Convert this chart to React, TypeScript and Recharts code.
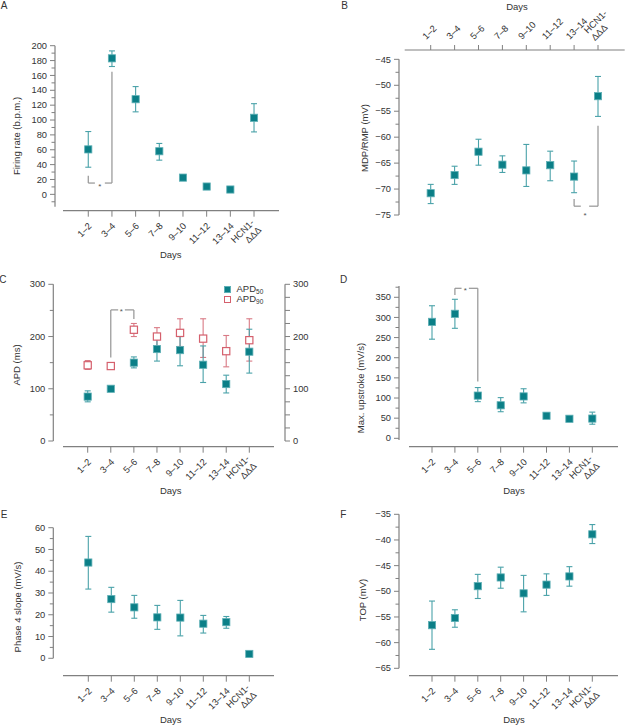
import React from 'react';
import { ErrorBar, ReferenceDot, ReferenceLine, Scatter, ScatterChart, XAxis, YAxis } from 'recharts';

const DAYS = ['1–2', '3–4', '5–6', '7–8', '9–10', '11–12', '13–14', 'HCN1-\nΔΔΔ'];
const POS = [1, 2, 3, 4, 5, 6, 7, 8];

// A: firing rate (b.p.m.)
const FIRING_MEAN = [60.5, 183, 128, 58, 22.5, 10.5, 6.5, 103];
const FIRING_LO = [36.5, 172, 111, 46, 22.5, 10.5, 6.5, 84];
const FIRING_HI = [84.5, 193, 145, 68.5, 22.5, 10.5, 6.5, 122];

// B: MDP/RMP (mV)
const MDP_MEAN = [-70.8, -67.3, -62.8, -65.3, -66.4, -65.4, -67.6, -52.1];
const MDP_LO = [-72.8, -69.1, -65.4, -66.8, -69.5, -68.4, -70.7, -56];
const MDP_HI = [-69.1, -65.6, -60.4, -63.6, -61.4, -62.7, -64.6, -48.3];

// C: APD (ms)
const APD50_MEAN = [85, 100, 150, 176, 174, 146, 109, 171];
const APD50_LO = [75, 100, 140, 153, 144, 112, 92, 130];
const APD50_HI = [96, 100, 161, 195, 200, 182, 126, 214];
const APD90_MEAN = [145, 143.5, 213, 200, 207, 196, 172, 193];
const APD90_LO = [137, 141, 200, 182, 181, 160, 142, 153];
const APD90_HI = [154, 146, 225, 217, 234, 234, 202, 234];

// D: max. upstroke (mV/s)
const UPSTROKE_MEAN = [289, 309, 106, 82, 104, 56, 48.5, 49];
const UPSTROKE_LO = [246, 273, 91, 66, 88, 56, 48.5, 35];
const UPSTROKE_HI = [329, 345, 126, 101, 123, 56, 48.5, 65];

// E: phase 4 slope (mV/s)
const SLOPE_MEAN = [44, 27.2, 23.4, 18.8, 18.7, 15.9, 16.6, 2];
const SLOPE_LO = [31.8, 21.2, 18.4, 13.3, 10.3, 11.6, 13.8, 2];
const SLOPE_HI = [56, 32.6, 28.9, 24.3, 26.6, 19.7, 19.2, 2];

// F: TOP (mV)
const TOP_MEAN = [-56.6, -55.2, -49, -47.3, -50.4, -48.7, -47.1, -38.9];
const TOP_LO = [-61.3, -57, -51.4, -49.4, -54, -50.8, -49, -40.7];
const TOP_HI = [-51.9, -53.6, -46.7, -45.3, -46.9, -46.6, -45.2, -37];

// y ticks
const A_MAJOR = [0, 20, 40, 60, 80, 100, 120, 140, 160, 180, 200];
const A_MINOR = [-10, 10, 30, 50, 70, 90, 110, 130, 150, 170, 190];
const B_MAJOR = [-75, -70, -65, -60, -55, -50, -45];
const B_MINOR = [-72.5, -67.5, -62.5, -57.5, -52.5, -47.5];
const C_MAJOR = [0, 100, 200, 300];
const C_MINOR = [50, 150, 250];
const C_RIGHT_MINOR = [25, 50, 75, 125, 150, 175, 225, 250, 275];
const D_MAJOR = [0, 50, 100, 150, 200, 250, 300, 350];
const D_MINOR = [25, 75, 125, 175, 225, 275, 325, 375];
const E_MAJOR = [0, 10, 20, 30, 40, 50, 60];
const E_MINOR = [5, 15, 25, 35, 45, 55];
const F_MAJOR = [-65, -60, -55, -50, -45, -40, -35];
const F_MINOR = [-62.5, -57.5, -52.5, -47.5, -42.5, -37.5];

// significance brackets: [x1, y1, x2, y2] segments, star at [x, y]
const A_BRACKET = [[1, 25, 1, 15.2], [1, 15.2, 1.28, 15.2], [1.7, 15.2, 2, 15.2], [2, 15.2, 2, 165]];
const A_STAR = [1.49, 13];
const B_BRACKET = [[7, -71.9, 7, -73.3], [7, -73.3, 7.28, -73.3], [7.63, -73.3, 8, -73.3], [8, -73.3, 8, -57.8]];
const B_STAR = [7.46, -74.6];
const C_BRACKET = [[2, 160, 2, 251], [2, 251, 2.32, 251], [2.61, 251, 3, 251], [3, 251, 3, 233.6]];
const C_STAR = [2.46, 251];
const D_BRACKET = [[2, 355.8, 2, 372.3], [2, 372.3, 2.29, 372.3], [2.61, 372.3, 3, 372.3], [3, 372.3, 3, 140.7]];
const D_STAR = [2.46, 373];

const FONT = '"Liberation Sans", Arial, Helvetica, sans-serif';
const AXIS = '#808080';
const TEXT = '#333';
const TEAL = '#0b7f87';
const TEAL_EDGE = '#5fb0b6';
const TEAL_ERR = '#4aa2a9';
const PINK = '#d5606d';
const PINK_ERR = '#d97a85';
const BRACKET = '#949494';
const W = 626;
const H = 727;

const rows = (mean: number[], lo: number[], hi: number[]) =>
  POS.map((x, i) => ({ x, y: mean[i], err: [mean[i] - lo[i], hi[i] - mean[i]] }));

const fmt = (v: number) => (v < 0 ? `\u2212${Math.abs(v)}` : `${v}`);

const makeLeftTick = (majors: number[]) => (props: any) => {
  const { x, y, payload } = props;
  const major = majors.includes(payload.value);
  return (
    <g>
      <line x1={x - (major ? 5 : 3.5)} x2={x} y1={y} y2={y} stroke={AXIS} strokeWidth={1} />
      {major && (
        <text x={x - 8} y={y} dy="0.34em" textAnchor="end" fontSize={9.3} fill={TEXT} fontFamily={FONT}>
          {fmt(payload.value)}
        </text>
      )}
    </g>
  );
};

const makeRightTick = (majors: number[]) => (props: any) => {
  const { x, y, payload } = props;
  const major = majors.includes(payload.value);
  return (
    <g>
      <line x1={x} x2={x + 5} y1={y} y2={y} stroke={AXIS} strokeWidth={1} />
      {major && (
        <text x={x + 8} y={y} dy="0.34em" textAnchor="start" fontSize={9.3} fill={TEXT} fontFamily={FONT}>
          {fmt(payload.value)}
        </text>
      )}
    </g>
  );
};

const BottomTick = (props: any) => {
  const { x, y, payload } = props;
  const parts = DAYS[Math.round(payload.value) - 1].split('\n');
  return (
    <g transform={`translate(${x + 4},${y + 10}) rotate(-45)`}>
      <text textAnchor="end" fontSize={9.3} fill={TEXT} fontFamily={FONT}>
        {parts.map((s, i) => (
          <tspan key={i} x={0} dy={i === 0 ? (parts.length > 1 ? '-0.5em' : 0) : '1.1em'}>{s}</tspan>
        ))}
      </text>
    </g>
  );
};

const TopTick = (props: any) => {
  const { x, y, payload } = props;
  const parts = DAYS[Math.round(payload.value) - 1].split('\n');
  return (
    <g transform={`translate(${x - 4.4},${y - 5}) rotate(-45)`}>
      <text textAnchor="start" fontSize={9.3} fill={TEXT} fontFamily={FONT}>
        {parts.map((s, i) => (
          <tspan key={i} x={0} dy={i === 0 ? (parts.length > 1 ? '-0.9em' : 0) : '1.1em'}>{s}</tspan>
        ))}
      </text>
    </g>
  );
};

const FilledSquare = (p: any) => (
  <rect x={p.cx - 3.6} y={p.cy - 3.6} width={7.2} height={7.2} fill={TEAL} stroke={TEAL_EDGE} strokeWidth={0.8} />
);
const OpenSquare = (p: any) => (
  <rect x={p.cx - 3.6} y={p.cy - 3.6} width={7.2} height={7.2} fill="#fff" stroke={PINK} strokeWidth={1.2} />
);
const Star = (p: any) => (
  <text x={p.cx} y={p.cy + 4.6} textAnchor="middle" fontSize={8} fill="#555" fontFamily={FONT}>*</text>
);

const bracket = (segs: number[][], star: number[], key: string) => [
  ...segs.map((s, i) => (
    <ReferenceLine
      key={`${key}-${i}`}
      segment={[{ x: s[0], y: s[1] }, { x: s[2], y: s[3] }]}
      stroke={BRACKET}
      strokeWidth={1.2}
      ifOverflow="visible"
    />
  )),
  <ReferenceDot key={`${key}-star`} x={star[0]} y={star[1]} r={0} shape={Star} ifOverflow="visible" />,
];

const teal = (data: any[]) => (
  <Scatter data={data} dataKey="y" shape={FilledSquare} isAnimationActive={false}>
    <ErrorBar dataKey="err" direction="y" width={3} stroke={TEAL_ERR} strokeWidth={1.1} isAnimationActive={false} />
  </Scatter>
);

interface PanelProps {
  box: { left: number; top: number; right: number; bottom: number };
  xDomain: [number, number];
  yDomain: [number, number];
  major: number[];
  minor: number[];
  xDash: string;
  yDash: string;
  xTop?: boolean;
  right?: number[];
  children?: React.ReactNode;
}

const Panel = ({ box, xDomain, yDomain, major, minor, xDash, yDash, xTop, right, children }: PanelProps) => {
  const YW = 40;
  const XH = 40;
  const margin = {
    left: box.left - YW,
    right: W - box.right - (right ? YW : 0),
    top: xTop ? box.top - XH : box.top,
    bottom: xTop ? H - box.bottom : H - box.bottom - XH,
  };
  return (
    <div style={{ position: 'absolute', left: 0, top: 0 }}>
      <ScatterChart width={W} height={H} margin={margin}>
        <XAxis
          type="number"
          dataKey="x"
          orientation={xTop ? 'top' : 'bottom'}
          height={XH}
          domain={xDomain}
          allowDataOverflow
          ticks={POS}
          interval={0}
          tickSize={xTop ? 5 : 6}
          tickMargin={0}
          tickLine={{ stroke: AXIS, strokeWidth: 1 }}
          axisLine={{ stroke: AXIS, strokeWidth: 1.2, strokeDasharray: xDash }}
          tick={xTop ? TopTick : BottomTick}
        />
        <YAxis
          type="number"
          dataKey="y"
          width={YW}
          domain={yDomain}
          allowDataOverflow
          ticks={[...major, ...minor]}
          interval={0}
          tickSize={0}
          tickMargin={0}
          tickLine={false}
          axisLine={{ stroke: AXIS, strokeWidth: 1.2, strokeDasharray: yDash }}
          tick={makeLeftTick(major)}
        />
        {right && (
          <YAxis
            yAxisId="r"
            orientation="right"
            type="number"
            dataKey="y"
            width={YW}
            domain={yDomain}
            allowDataOverflow
            ticks={[...major, ...right]}
            interval={0}
            tickSize={0}
            tickMargin={0}
            tickLine={false}
            axisLine={{ stroke: AXIS, strokeWidth: 1.2, strokeDasharray: yDash }}
            tick={makeRightTick(major)}
          />
        )}
        {children}
      </ScatterChart>
    </div>
  );
};

const Txt = ({ x, y, size = 9.5, rotate = false, children }: any) => (
  <div
    style={{
      position: 'absolute',
      left: x,
      top: y,
      transform: `translate(-50%, -50%)${rotate ? ' rotate(-90deg)' : ''}`,
      fontSize: size,
      lineHeight: 1,
      whiteSpace: 'nowrap',
      color: TEXT,
    }}
  >
    {children}
  </div>
);

export default function App() {
  return (
    <div style={{ position: 'absolute', left: 0, top: 0, width: W, height: H, background: '#fff', fontFamily: FONT }}>
      <Panel
        box={{ left: 55, top: 45.7, right: 279, bottom: 210.7 }}
        xDomain={[-0.405, 9.055]}
        yDomain={[-22, 200]}
        major={A_MAJOR}
        minor={A_MINOR}
        xDash="0 8 400"
        yDash="161 100"
      >
        {bracket(A_BRACKET, A_STAR, 'a')}
        {teal(rows(FIRING_MEAN, FIRING_LO, FIRING_HI))}
      </Panel>

      <Panel
        box={{ left: 399, top: 50, right: 624.7, bottom: 215 }}
        xDomain={[-0.326, 9.117]}
        yDomain={[-75, -43.2]}
        major={B_MAJOR}
        minor={B_MINOR}
        xDash="0 5.7 400"
        yDash="0 9.3 400"
        xTop
      >
        {bracket(B_BRACKET, B_STAR, 'b')}
        {teal(rows(MDP_MEAN, MDP_LO, MDP_HI))}
      </Panel>

      <Panel
        box={{ left: 53.3, top: 284.3, right: 285, bottom: 446.7 }}
        xDomain={[-0.49, 9.546]}
        yDomain={[-10.9, 300]}
        major={C_MAJOR}
        minor={C_MINOR}
        right={C_RIGHT_MINOR}
        xDash="0 9.7 211 100"
        yDash="156.7 100"
      >
        {bracket(C_BRACKET, C_STAR, 'c')}
        <Scatter yAxisId="r" data={rows(APD90_MEAN, APD90_LO, APD90_HI)} dataKey="y" shape={OpenSquare} isAnimationActive={false}>
          <ErrorBar dataKey="err" direction="y" width={3} stroke={PINK_ERR} strokeWidth={1.1} isAnimationActive={false} />
        </Scatter>
        {teal(rows(APD50_MEAN, APD50_LO, APD50_HI))}
      </Panel>

      <Panel
        box={{ left: 399, top: 286, right: 618, bottom: 446.7 }}
        xDomain={[-0.441, 9.122]}
        yDomain={[-20.8, 378]}
        major={D_MAJOR}
        minor={D_MINOR}
        xDash="0 10 400"
        yDash="154 100"
      >
        {bracket(D_BRACKET, D_STAR, 'd')}
        {teal(rows(UPSTROKE_MEAN, UPSTROKE_LO, UPSTROKE_HI))}
      </Panel>

      <Panel
        box={{ left: 53.3, top: 527.7, right: 274, bottom: 675.7 }}
        xDomain={[-0.522, 9.074]}
        yDomain={[-8, 60]}
        major={E_MAJOR}
        minor={E_MINOR}
        xDash="0 9.7 400"
        yDash="130.6 100"
      >
        {teal(rows(SLOPE_MEAN, SLOPE_LO, SLOPE_HI))}
      </Panel>

      <Panel
        box={{ left: 399, top: 514.3, right: 618, bottom: 675.7 }}
        xDomain={[-0.441, 9.122]}
        yDomain={[-66.44, -35]}
        major={F_MAJOR}
        minor={F_MINOR}
        xDash="0 10 400"
        yDash="154 100"
      >
        {teal(rows(TOP_MEAN, TOP_LO, TOP_HI))}
      </Panel>

      {/* panel letters */}
      <Txt x={4.2} y={6.4} size={10}>A</Txt>
      <Txt x={344.7} y={6.4} size={10}>B</Txt>
      <Txt x={2.8} y={280} size={10}>C</Txt>
      <Txt x={343.5} y={280} size={10}>D</Txt>
      <Txt x={4.2} y={514.5} size={10}>E</Txt>
      <Txt x={343.2} y={514.5} size={10}>F</Txt>

      {/* x titles */}
      <Txt x={170.8} y={255}>Days</Txt>
      <Txt x={517} y={6.5}>Days</Txt>
      <Txt x={170.8} y={491}>Days</Txt>
      <Txt x={514} y={491}>Days</Txt>
      <Txt x={170.8} y={719.5}>Days</Txt>
      <Txt x={514} y={719.5}>Days</Txt>

      {/* y titles */}
      <Txt x={17} y={136.2} rotate>Firing rate (b.p.m.)</Txt>
      <Txt x={364.7} y={137.7} rotate>MDP/RMP (mV)</Txt>
      <Txt x={17.3} y={365} rotate>APD (ms)</Txt>
      <Txt x={361.3} y={388.3} rotate>Max. upstroke (mV/s)</Txt>
      <Txt x={18} y={606.7} rotate>Phase 4 slope (mV/s)</Txt>
      <Txt x={363} y={600} rotate>TOP (mV)</Txt>

      {/* legend, panel C */}
      <div style={{ position: 'absolute', left: 224.1, top: 285.7, width: 7.2, height: 7.2, background: TEAL, boxSizing: 'border-box', border: `0.8px solid ${TEAL_EDGE}` }} />
      <div style={{ position: 'absolute', left: 224.1, top: 295.7, width: 7.2, height: 7.2, background: '#fff', boxSizing: 'border-box', border: `1.2px solid ${PINK}` }} />
      <div style={{ position: 'absolute', left: 236.5, top: 284.3, fontSize: 9.5, lineHeight: '10px', color: TEXT, whiteSpace: 'nowrap' }}>
        APD<sub style={{ fontSize: 6.5, verticalAlign: '-1.5px' }}>50</sub>
      </div>
      <div style={{ position: 'absolute', left: 236.5, top: 294.3, fontSize: 9.5, lineHeight: '10px', color: TEXT, whiteSpace: 'nowrap' }}>
        APD<sub style={{ fontSize: 6.5, verticalAlign: '-1.5px' }}>90</sub>
      </div>
    </div>
  );
}
